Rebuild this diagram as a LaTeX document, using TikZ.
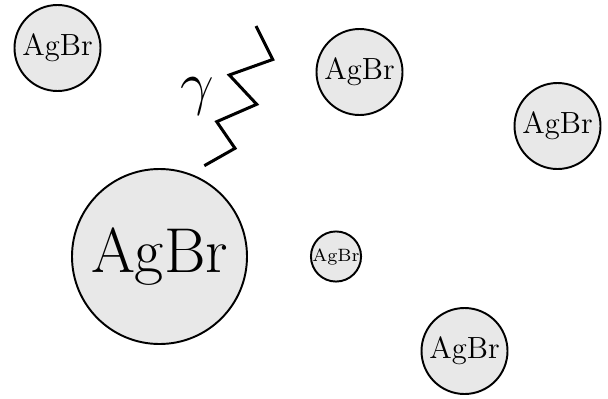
\documentclass[tikz,border=0pt]{standalone}
\begin{document}
\begin{tikzpicture}[x=0.415pt,y=-0.415pt,
  grain/.style={circle,draw=black,fill=black!9,line width=0.8pt,inner sep=0pt},
  ray/.style={line width=1.25pt,line join=miter}]
\useasboundingbox (0,0) rectangle (608,398);
\node[grain,minimum size=86*0.415pt,font=\fontsize{12.7}{15}\selectfont] (g1) at (57.5,48) {AgBr};
\node[grain,minimum size=86*0.415pt,font=\fontsize{12.7}{15}\selectfont] (g2) at (359.5,72) {AgBr};
\node[grain,minimum size=86*0.415pt,font=\fontsize{12.7}{15}\selectfont] (g3) at (557.5,126) {AgBr};
\node[grain,minimum size=175*0.415pt,font=\fontsize{26.3}{30}\selectfont] (g4) at (159.5,256.5) {AgBr};
\node[grain,minimum size=49*0.415pt,font=\fontsize{7.4}{9}\selectfont] (g5) at (336,256.5) {AgBr};
\node[grain,minimum size=86*0.415pt,font=\fontsize{12.7}{15}\selectfont] (g6) at (464.5,351) {AgBr};
\node[font=\fontsize{26.5}{30}\selectfont,inner sep=0pt] (gam) at (197,96) {$\gamma$};
\draw[ray] (256,26) -- (272.7,59.5) -- (229.3,75) -- (256.7,104.3) -- (216.7,121.7) -- (235,148.3) -- (204.3,165.7);
\end{tikzpicture}
\end{document}
